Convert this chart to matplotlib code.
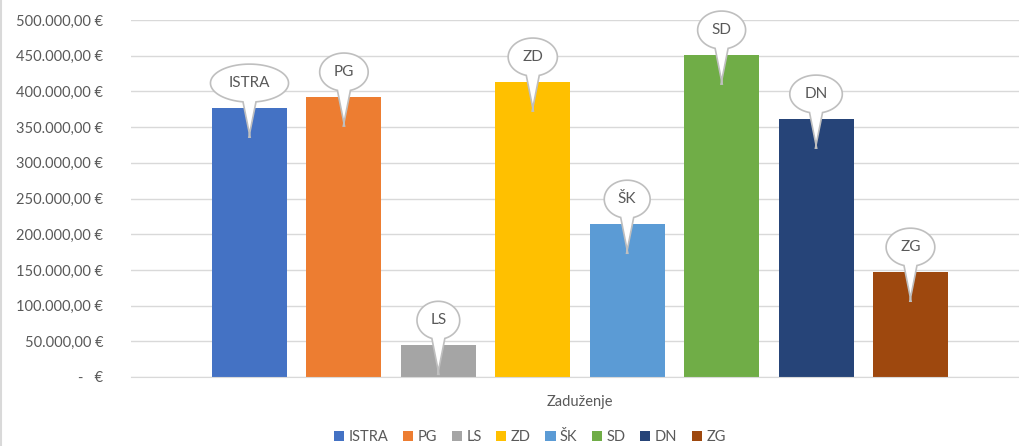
import numpy as np
import matplotlib
matplotlib.use("Agg")
import matplotlib.pyplot as plt
import matplotlib.transforms as mtransforms
from matplotlib.path import Path
from matplotlib.patches import PathPatch, Patch
from matplotlib.lines import Line2D

# data
regions = ["ISTRA", "PG", "LS", "ZD", "ŠK", "SD", "DN", "ZG"]
debt = [376600, 392100, 44400, 413100, 214000, 450900, 361200, 146800]
colors = ["#4472C4", "#ED7D31", "#A5A5A5", "#FFC000", "#5B9BD5", "#70AD47", "#264478", "#9E480E"]
category = "Zaduženje"
yticks = np.arange(0, 500001, 50000)

txt_col = "#595959"
grid_col = "#D9D9D9"
plt.rcParams['font.family'] = ['Lato', 'DejaVu Sans']
fs = 10.5

def euro(v):
    if v == 0:
        return "-   €"
    s = f"{v:,.2f}".replace(",", "X").replace(".", ",").replace("X", ".")
    return s + " €"

fig = plt.figure(figsize=(10.2, 4.46), dpi=100)
ax = fig.add_axes([131/1020, 69/446, 1 - 131/1020, 357/446])

x = np.arange(len(regions))
bars = ax.bar(x, debt, width=0.795, color=colors, zorder=2)

ax.set_ylim(0, 500000)
ax.set_xlim(-1.255, 8.16)
ax.set_yticks(yticks)
ax.set_yticklabels([euro(v) for v in yticks])
ax.set_xticks([3.5])
ax.set_xticklabels([category])
ax.tick_params(axis='both', length=0, colors=txt_col, labelsize=fs)
ax.tick_params(axis='y', pad=20)
ax.tick_params(axis='x', pad=13)
ax.grid(axis='y', color=grid_col, lw=1, zorder=0)
ax.set_axisbelow(True)
for side in ["left", "right", "top"]:
    ax.spines[side].set_visible(False)
ax.spines["bottom"].set_color(grid_col)

# callout bubbles (pixel offsets from bar top, dpi=100 -> /100 gives inches)
fig.canvas.draw()
renderer = fig.canvas.get_renderer()
for xi, val, name in zip(x, debt, regions):
    t = ax.annotate(name, xy=(xi, val), xytext=(0, 25), textcoords='offset pixels',
                    ha='center', va='center', fontsize=11, color=txt_col,
                    zorder=6, annotation_clip=False)
    tw = t.get_window_extent(renderer).width
    a = (tw * 1.4 + 20) / 2
    b = 19.0
    cy = 25
    hw = 6.5
    ang = np.arccos(hw / a)
    th = np.linspace(-ang, np.pi + ang, 80)
    verts = [(a * np.cos(q), cy + b * np.sin(q)) for q in th]
    verts.append((0.6, -29))
    verts.append((-0.6, -29))
    verts.append(verts[0])
    verts = np.array(verts) / 100.0
    codes = [Path.MOVETO] + [Path.LINETO] * (len(verts) - 2) + [Path.CLOSEPOLY]
    trans = fig.dpi_scale_trans + mtransforms.ScaledTranslation(xi, val, ax.transData)
    bubble = PathPatch(Path(verts, codes), facecolor="white", edgecolor="#BFBFBF",
                       lw=1.2, transform=trans, zorder=5, clip_on=False)
    ax.add_patch(bubble)

handles = [Patch(facecolor=c, edgecolor='none') for c in colors]
fig.legend(handles, regions, loc='center', bbox_to_anchor=(530/1020, 1 - 437/446),
           ncol=8, frameon=False, fontsize=fs, labelcolor=txt_col,
           handlelength=0.7, handleheight=0.7, handletextpad=0.3, columnspacing=1.0)

fig.add_artist(Line2D([0.0008, 0.0008], [0, 1], transform=fig.transFigure, color=grid_col, lw=1.5))

fig.savefig("out.png", dpi=100)
